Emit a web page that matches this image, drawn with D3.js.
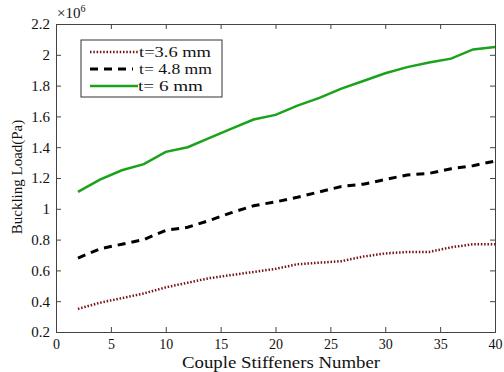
<!DOCTYPE html>
<html>
<head>
<meta charset="utf-8">
<script src="https://cdn.jsdelivr.net/npm/d3@7"></script>
<style>
  body { margin: 0; background: #fff; }
  text { font-family: "Liberation Serif", "DejaVu Serif", serif; }
</style>
</head>
<body>
<div id="wrapper"></div>
<script>
// data (x10^6 Pa)
const stiffeners = [2, 4, 6, 8, 10, 12, 14, 16, 18, 20, 22, 24, 26, 28, 30, 32, 34, 36, 38, 40]
const load36 = [0.35, 0.39, 0.42, 0.45, 0.49, 0.52, 0.55, 0.57, 0.59, 0.61, 0.64, 0.65, 0.66, 0.69, 0.71, 0.72, 0.72, 0.75, 0.77, 0.77]
const load48 = [0.68, 0.74, 0.77, 0.80, 0.86, 0.88, 0.925, 0.975, 1.02, 1.045, 1.075, 1.11, 1.145, 1.16, 1.19, 1.22, 1.23, 1.26, 1.28, 1.31]
const load60 = [1.11, 1.19, 1.25, 1.29, 1.37, 1.40, 1.46, 1.52, 1.58, 1.61, 1.67, 1.72, 1.78, 1.83, 1.88, 1.92, 1.95, 1.975, 2.035, 2.05]
const seriesNames = ["t=3.6 mm", "t= 4.8 mm", "t= 6 mm"]
const xTicks = [0, 5, 10, 15, 20, 25, 30, 35, 40]
const yTicks = [0.2, 0.4, 0.6, 0.8, 1, 1.2, 1.4, 1.6, 1.8, 2, 2.2]

const dimensions = {
  width: 504,
  height: 372,
  margins: { top: 24, right: 9, bottom: 40, left: 56 },
}
dimensions.boundedWidth = dimensions.width - dimensions.margins.left - dimensions.margins.right
dimensions.boundedHeight = dimensions.height - dimensions.margins.top - dimensions.margins.bottom

const wrapper = d3.select("#wrapper")
  .append("svg")
  .attr("width", dimensions.width)
  .attr("height", dimensions.height)

const bounds = wrapper.append("g")
  .attr("transform", `translate(${dimensions.margins.left},${dimensions.margins.top})`)

const xScale = d3.scaleLinear().domain([0, 40]).range([0, dimensions.boundedWidth])
const yScale = d3.scaleLinear().domain([0.2, 2.2]).range([dimensions.boundedHeight, 0])

// axes (ticks inward like matlab, box on)
const axisColor = "#444"
function styleAxis(g) {
  g.attr("font-family", "Liberation Serif, serif").attr("font-size", 15)
  g.select(".domain").attr("stroke", axisColor).attr("stroke-width", 1)
  g.selectAll(".tick line").attr("stroke", axisColor)
  g.selectAll(".tick text").attr("fill", "#111")
}

bounds.append("g")
  .attr("transform", `translate(0,${dimensions.boundedHeight})`)
  .call(d3.axisBottom(xScale).tickValues(xTicks).tickSize(-5).tickPadding(7).tickFormat(d3.format("d")))
  .call(styleAxis)
  .attr("font-size", 14)

bounds.append("g")
  .call(d3.axisTop(xScale).tickValues(xTicks).tickSize(-5).tickFormat(""))
  .call(styleAxis)

bounds.append("g")
  .call(d3.axisLeft(yScale).tickValues(yTicks).tickSize(-5).tickPadding(6).tickFormat(d => d3.format("~g")(d)))
  .call(styleAxis)

bounds.append("g")
  .attr("transform", `translate(${dimensions.boundedWidth},0)`)
  .call(d3.axisRight(yScale).tickValues(yTicks).tickSize(-5).tickFormat(""))
  .call(styleAxis)

// x10^6
const expo = wrapper.append("text")
  .attr("x", 57)
  .attr("y", 18)
  .style("font-size", "15px")
  .attr("fill", "#111")
expo.append("tspan").text("\u00d710")
expo.append("tspan").attr("dy", -6).style("font-size", "10px").text("6")

// lines
const lineGenerator = d3.line()
  .x((d, i) => xScale(stiffeners[i]))
  .y(d => yScale(d))

const series = [
  { values: load36, color: "#7a1010", width: 2.5, dash: "1.5,1.8" },
  { values: load48, color: "#000", width: 3, dash: "8,6" },
  { values: load60, color: "#1aa31a", width: 2.5, dash: null },
]

series.forEach(s => {
  bounds.append("path")
    .attr("d", lineGenerator(s.values))
    .attr("fill", "none")
    .attr("stroke", s.color)
    .attr("stroke-width", s.width)
    .attr("stroke-dasharray", s.dash)
})

// legend
const legendWidths = [72, 73, 65]
const legend = wrapper.append("g").attr("transform", "translate(81,40)")
legend.append("rect")
  .attr("width", 141)
  .attr("height", 57)
  .attr("fill", "#fff")
  .attr("stroke", "#333")
  .attr("stroke-width", 1)

series.forEach((s, i) => {
  const y = 12 + i * 17
  legend.append("line")
    .attr("x1", 9).attr("x2", i == 1 ? 52 : 57)
    .attr("y1", y).attr("y2", y)
    .attr("stroke", s.color)
    .attr("stroke-width", s.width)
    .attr("stroke-dasharray", s.dash)
  legend.append("text")
    .attr("x", i == 2 ? 57 : 58)
    .attr("y", y + 5)
    .style("font-size", "14px")
    .attr("fill", "#111")
    .attr("textLength", legendWidths[i])
    .attr("lengthAdjust", "spacingAndGlyphs")
    .text(seriesNames[i])
})

// axis labels
wrapper.append("text")
  .attr("x", 281)
  .attr("y", 368)
  .attr("text-anchor", "middle")
  .style("font-size", "16px")
  .attr("fill", "#111")
  .attr("textLength", 198)
  .attr("lengthAdjust", "spacingAndGlyphs")
  .text("Couple Stiffeners Number")

wrapper.append("text")
  .attr("transform", `translate(22,177) rotate(-90)`)
  .attr("text-anchor", "middle")
  .style("font-size", "15px")
  .attr("fill", "#111")
  .text("Buckling Load(Pa)")
</script>
</body>
</html>
